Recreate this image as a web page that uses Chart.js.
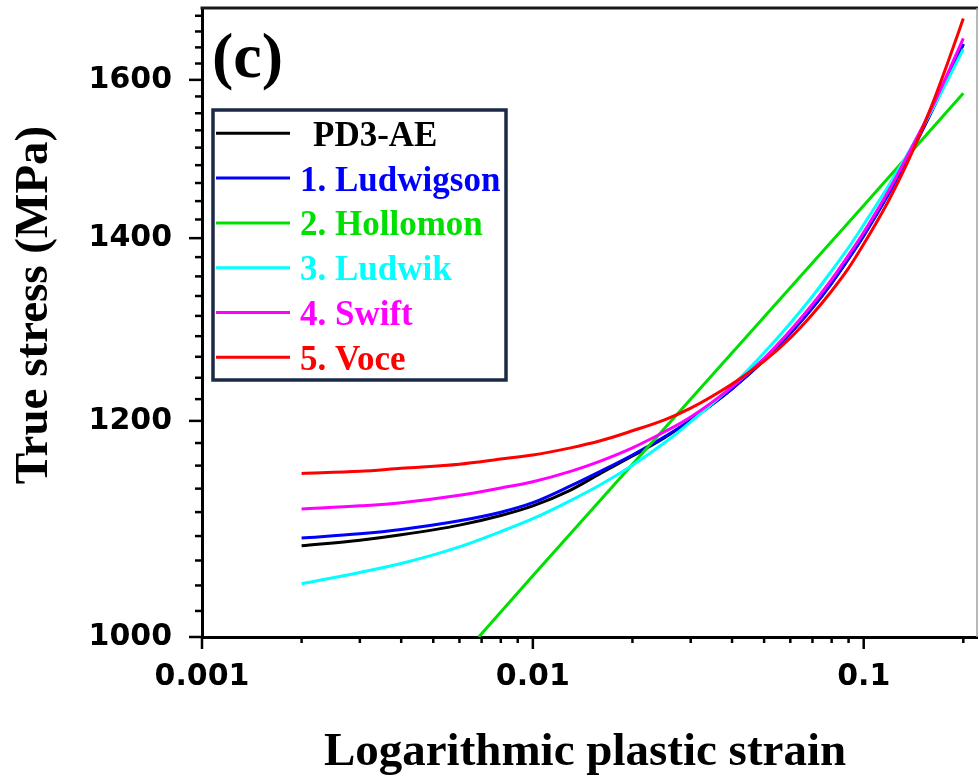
<!DOCTYPE html>
<html>
<head>
<meta charset="utf-8">
<script src="https://cdn.jsdelivr.net/npm/chart.js@4.4.1/dist/chart.umd.min.js"></script>
<style>
  html, body { margin: 0; padding: 0; background: #ffffff; }
  #wrap { width: 979px; height: 778px; }
</style>
</head>
<body>
<div id="wrap"><canvas id="chart" width="979" height="778"></canvas></div>
<script>
// Flow curves of PD3-AE and the five hardening-law fits (true stress vs. log plastic strain)
const strain = [0.002, 0.003, 0.004, 0.006, 0.008, 0.01, 0.013, 0.016, 0.02, 0.025, 0.03,
                0.04, 0.05, 0.06, 0.07, 0.08, 0.09, 0.1, 0.12, 0.14, 0.16, 0.18, 0.2];

const pd3ae     = [1080, 1085, 1090, 1099, 1108, 1117, 1132, 1148, 1165, 1183, 1201,
                   1233, 1263, 1292, 1320, 1348, 1376, 1403, 1457, 1508, 1557, 1604, 1649];
const ludwigson = [1087, 1091, 1095, 1103, 1111, 1120, 1136, 1150, 1166, 1184, 1201,
                   1233, 1263, 1292, 1320, 1348, 1376, 1403, 1456, 1507, 1557, 1604, 1649];
const ludwik    = [1046, 1056, 1064, 1079, 1093, 1105, 1122, 1137, 1156, 1178, 1199,
                   1236, 1271, 1303, 1333, 1362, 1389, 1416, 1466, 1513, 1558, 1601, 1642];
const swift     = [1114, 1117, 1120, 1127, 1134, 1140, 1150, 1160, 1173, 1189, 1204,
                   1235, 1265, 1295, 1324, 1352, 1380, 1407, 1460, 1512, 1561, 1610, 1657];
const voce      = [1148, 1150, 1153, 1157, 1162, 1166, 1173, 1180, 1190, 1201, 1213,
                   1238, 1262, 1287, 1313, 1339, 1365, 1393, 1448, 1505, 1564, 1625, 1685];

// Hollomon fit is a straight line in log-log space
const hollomonStrain = [0.00686, 0.01, 0.02, 0.05, 0.1, 0.2];
const hollomon       = [1000, 1053, 1157, 1310, 1439, 1582];

const seriesNames  = ['PD3-AE', '1. Ludwigson', '2. Hollomon', '3. Ludwik', '4. Swift', '5. Voce'];
const seriesColors = ['#000000', '#0000ff', '#00e000', '#00ffff', '#ff00ff', '#ff0000'];

const xMajorTicks = [0.001, 0.01, 0.1];
const xTickLabels = ['0.001', '0.01', '0.1'];
const yMajorTicks = [1000, 1200, 1400, 1600];
const yTickLabels = ['1000', '1200', '1400', '1600'];

const X_MIN = 0.001, X_MAX = 0.22, Y_MIN = 1000, Y_MAX = 1700;

// minor ticks: 1..9 per decade on strain, nine sub-steps between stress labels
const xTickValues = [];
for (let d = -3; d <= -1; d++) {
  for (let m = 1; m <= 9; m++) {
    const v = Number((m * Math.pow(10, d)).toPrecision(6));
    if (v <= X_MAX + 1e-9) xTickValues.push(v);
  }
}
const yTickValues = [];
for (let k = 0; ; k++) {
  const v = Y_MIN + k * 200 / 9;
  if (v > Y_MAX + 1e-6) break;
  yTickValues.push(v);
}

const near = (a, b) => Math.abs(a - b) < 1e-9 * Math.max(1, Math.abs(b));
const xMajorIndex = v => xMajorTicks.findIndex(m => near(v, m));
const yMajorIndex = v => yMajorTicks.findIndex(m => Math.abs(v - m) < 1e-6);

const pairs = (xs, ys) => xs.map((x, i) => ({ x: x, y: ys[i] }));
const seriesData = [
  pairs(strain, pd3ae),
  pairs(strain, ludwigson),
  pairs(hollomonStrain, hollomon),
  pairs(strain, ludwik),
  pairs(strain, swift),
  pairs(strain, voce)
];

const datasets = seriesNames.map((name, i) => ({
  label: name,
  data: seriesData[i],
  borderColor: seriesColors[i],
  backgroundColor: seriesColors[i],
  borderWidth: 3,
  pointRadius: 0,
  fill: false,
  tension: 0,
  cubicInterpolationMode: i === 2 ? 'default' : 'monotone',
  order: seriesNames.length - i
}));

const serif = '"Liberation Serif", "Times New Roman", serif';
const sans = '"DejaVu Sans", Verdana, sans-serif';

// frame, outward tick marks, axis titles, panel tag and boxed legend
const decorations = {
  id: 'decorations',
  afterDraw(chart) {
    const { ctx, chartArea: a, scales: { x, y } } = chart;
    ctx.save();

    // top and right edges of the frame
    ctx.lineCap = 'butt';
    ctx.strokeStyle = '#1a1a1a';
    ctx.lineWidth = 3;
    ctx.beginPath();
    ctx.moveTo(a.left - 1.5, a.top);
    ctx.lineTo(a.right + 1, a.top);
    ctx.stroke();
    ctx.strokeStyle = '#a0a0a0';
    ctx.lineWidth = 1.5;
    ctx.beginPath();
    ctx.moveTo(a.right, a.top);
    ctx.lineTo(a.right, a.bottom);
    ctx.stroke();

    // tick marks
    ctx.strokeStyle = '#000000';
    ctx.lineWidth = 2.5;
    x.ticks.forEach(t => {
      const px = x.getPixelForValue(t.value);
      const len = xMajorIndex(t.value) >= 0 ? 12 : 6;
      ctx.beginPath();
      ctx.moveTo(px, a.bottom);
      ctx.lineTo(px, a.bottom + len);
      ctx.stroke();
    });
    y.ticks.forEach(t => {
      const py = y.getPixelForValue(t.value);
      const len = yMajorIndex(t.value) >= 0 ? 13 : 7;
      ctx.beginPath();
      ctx.moveTo(a.left, py);
      ctx.lineTo(a.left - len, py);
      ctx.stroke();
    });

    // axis titles
    ctx.fillStyle = '#000000';
    ctx.font = 'bold 47px ' + serif;
    ctx.textAlign = 'center';
    ctx.textBaseline = 'alphabetic';
    ctx.fillText('Logarithmic plastic strain', 585, 765);
    ctx.save();
    ctx.translate(47, 305);
    ctx.rotate(-Math.PI / 2);
    ctx.fillText('True stress (MPa)', 0, 0);
    ctx.restore();

    // panel tag
    ctx.textAlign = 'left';
    ctx.font = 'bold 64px ' + serif;
    ctx.fillText('(c)', 212, 77);

    // legend box
    const bx = 213, by = 110, bw = 293, bh = 270;
    ctx.fillStyle = '#ffffff';
    ctx.fillRect(bx, by, bw, bh);
    ctx.strokeStyle = '#1c2a48';
    ctx.lineWidth = 3.5;
    ctx.strokeRect(bx, by, bw, bh);
    ctx.font = 'bold 35px ' + serif;
    chart.data.datasets.forEach((ds, i) => {
      const ly = 133.3 + i * 44.8;
      ctx.strokeStyle = ds.borderColor;
      ctx.lineWidth = 3;
      ctx.beginPath();
      ctx.moveTo(216, ly);
      ctx.lineTo(290, ly);
      ctx.stroke();
      ctx.fillStyle = ds.borderColor;
      ctx.fillText(ds.label, i === 0 ? 313 : 300, ly + 12.5);
    });

    ctx.restore();
  }
};

// fixed axis boxes so the plotting area sits at a known place
const clearPadding = s => { s.paddingTop = 0; s.paddingBottom = 0; s.paddingLeft = 0; s.paddingRight = 0; };

new Chart(document.getElementById('chart'), {
  type: 'line',
  data: { datasets: datasets },
  options: {
    responsive: false,
    devicePixelRatio: 1,
    animation: false,
    layout: { padding: { top: 8, right: 2, left: 0, bottom: 0 } },
    plugins: { legend: { display: false }, tooltip: { enabled: false } },
    scales: {
      x: {
        type: 'logarithmic',
        position: 'bottom',
        min: X_MIN,
        max: X_MAX,
        grid: { display: false, drawTicks: false },
        border: { display: true, color: '#000000', width: 3 },
        ticks: {
          autoSkip: false,
          maxRotation: 0,
          padding: 22,
          color: '#000000',
          font: { family: sans, size: 30, weight: 'bold' },
          callback: v => { const k = xMajorIndex(v); return k >= 0 ? xTickLabels[k] : ''; }
        },
        afterBuildTicks: s => { s.ticks = xTickValues.map(v => ({ value: v })); },
        afterFit: s => { s.height = 141; clearPadding(s); }
      },
      y: {
        type: 'logarithmic',
        position: 'left',
        min: Y_MIN,
        max: Y_MAX,
        grid: { display: false, drawTicks: false },
        border: { display: true, color: '#000000', width: 3 },
        ticks: {
          autoSkip: false,
          padding: 30,
          color: '#000000',
          font: { family: sans, size: 30, weight: 'bold' },
          callback: v => { const k = yMajorIndex(v); return k >= 0 ? yTickLabels[k] : ''; }
        },
        afterBuildTicks: s => { s.ticks = yTickValues.map(v => ({ value: v })); },
        afterFit: s => { s.width = 202; clearPadding(s); }
      }
    }
  },
  plugins: [decorations]
});
</script>
</body>
</html>
